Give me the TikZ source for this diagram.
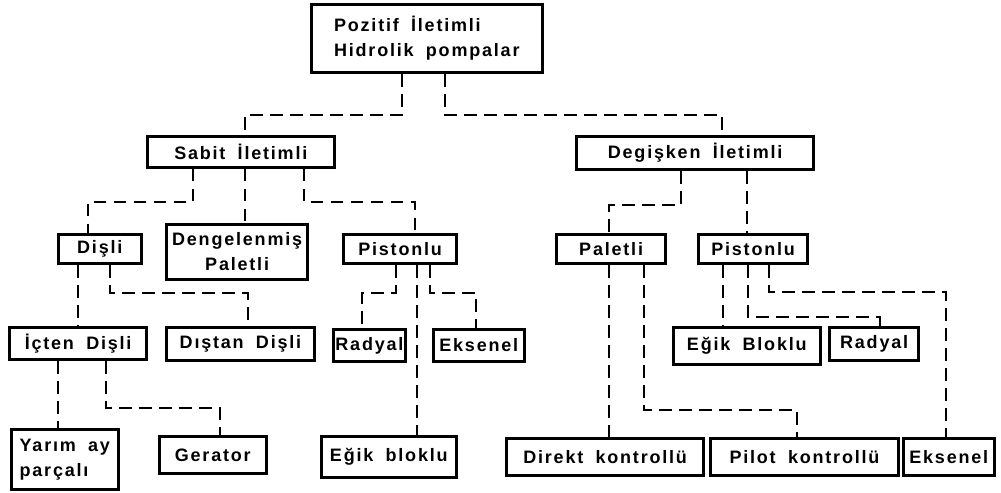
\documentclass[tikz,border=0pt]{standalone}
\usepackage{fontspec}
\usepackage{tikz}
\setmainfont{Liberation Sans}
\newfontfamily\boxfont[LetterSpace=10,WordSpace=1.8]{Liberation Sans}

\tikzset{
  box/.style={draw, line width=2.2pt, anchor=north west, inner xsep=1pt, inner ysep=2pt,
    font={\boxfont\fontsize{13.5}{18.5}\selectfont\bfseries}},
  link/.style={line width=2.2pt, dash pattern={on 9.5pt off 5.5pt}}
}

\begin{document}
\begin{tikzpicture}[x=0.75pt,y=0.75pt,yscale=-1,xscale=1]
\useasboundingbox (0,0) rectangle (1001,493);

% Text Node
\node [box, minimum width=173pt, minimum height=51pt, align=left] (root) at (310,3) {Pozitif İletimli\\Hidrolik pompalar};
% Text Node
\node [box, minimum width=140pt, minimum height=23pt] (sabit) at (146,135) {Sabit İletimli};
% Text Node
\node [box, minimum width=178pt, minimum height=25pt] (degis) at (575,135) {Degişken İletimli};
% Text Node
\node [box, minimum width=62pt, minimum height=22pt] (disli) at (57,233) {Dişli};
% Text Node
\node [box, minimum width=106pt, minimum height=41pt, align=center] (dengel) at (165,223) {Dengelenmiş\\Paletli};
% Text Node
\node [box, minimum width=85pt, minimum height=22pt] (pistonA) at (342,233) {Pistonlu};
% Text Node
\node [box, minimum width=82pt, minimum height=22pt] (paletli) at (555,233) {Paletli};
% Text Node
\node [box, minimum width=82pt, minimum height=22pt] (pistonB) at (697,233) {Pistonlu};
% Text Node
\node [box, minimum width=103pt, minimum height=24pt] (icten) at (8,326) {İçten Dişli};
% Text Node
\node [box, minimum width=111pt, minimum height=25pt] (distan) at (165,326) {Dıştan Dişli};
% Text Node
\node [box, minimum width=54pt, minimum height=24pt] (radyalA) at (332,328) {Radyal};
% Text Node
\node [box, minimum width=68pt, minimum height=24pt] (eksenelA) at (432,328) {Eksenel};
% Text Node
\node [box, minimum width=110pt, minimum height=28pt] (egikB) at (672,326) {Eğik Bloklu};
% Text Node
\node [box, minimum width=67pt, minimum height=25pt] (radyalB) at (828,326) {Radyal};
% Text Node
\node [box, minimum width=80pt, minimum height=45pt, align=left] (yarim) at (10,428) {Yarım ay\\parçalı};
% Text Node
\node [box, minimum width=80pt, minimum height=28pt] (gerator) at (158,435) {Gerator};
% Text Node
\node [box, minimum width=101pt, minimum height=31pt] (egikA) at (320,435) {Eğik bloklu};
% Text Node
\node [box, minimum width=148pt, minimum height=28pt] (direkt) at (505,437) {Direkt kontrollü};
% Text Node
\node [box, minimum width=141pt, minimum height=28pt] (pilot) at (709,437) {Pilot kontrollü};
% Text Node
\node [box, minimum width=68pt, minimum height=28pt] (eksenelB) at (902,437) {Eksenel};

%Straight Lines
\draw [link] (root.south -| 402,0) |- (245,115) -- (sabit.north -| 245,0);
\draw [link] (root.south -| 445,0) |- (722,115) -- (degis.north -| 722,0);
%Straight Lines
\draw [link] (sabit.south -| 193,0) |- (88,202) -- (disli.north -| 88,0);
\draw [link] (sabit.south -| 245,0) -- (dengel.north -| 245,0);
\draw [link] (sabit.south -| 304,0) |- (415,202) -- (pistonA.north -| 415,0);
%Straight Lines
\draw [link] (degis.south -| 681,0) |- (609,205) -- (paletli.north -| 609,0);
\draw [link] (degis.south -| 747,0) -- (pistonB.north -| 747,0);
%Straight Lines
\draw [link] (disli.south -| 78,0) -- (icten.north -| 78,0);
\draw [link] (disli.south -| 110,0) |- (248,293) -- (distan.north -| 248,0);
\draw [link] (icten.south -| 58,0) -- (yarim.north -| 58,0);
\draw [link] (icten.south -| 106,0) |- (220,408) -- (gerator.north -| 220,0);
%Straight Lines
\draw [link] (pistonA.south -| 396,0) |- (362,293) -- (radyalA.north -| 362,0);
\draw [link] (pistonA.south -| 417,0) -- (egikA.north -| 417,0);
\draw [link] (pistonA.south -| 430,0) |- (476,293) -- (eksenelA.north -| 476,0);
%Straight Lines
\draw [link] (paletli.south -| 609,0) -- (direkt.north -| 609,0);
\draw [link] (paletli.south -| 644,0) |- (797,410) -- (pilot.north -| 797,0);
%Straight Lines
\draw [link] (pistonB.south -| 723,0) -- (egikB.north -| 723,0);
\draw [link] (pistonB.south -| 748,0) |- (880,317) -- (radyalB.north -| 880,0);
\draw [link] (pistonB.south -| 769,0) |- (946,292) -- (eksenelB.north -| 946,0);

\end{tikzpicture}
\end{document}
